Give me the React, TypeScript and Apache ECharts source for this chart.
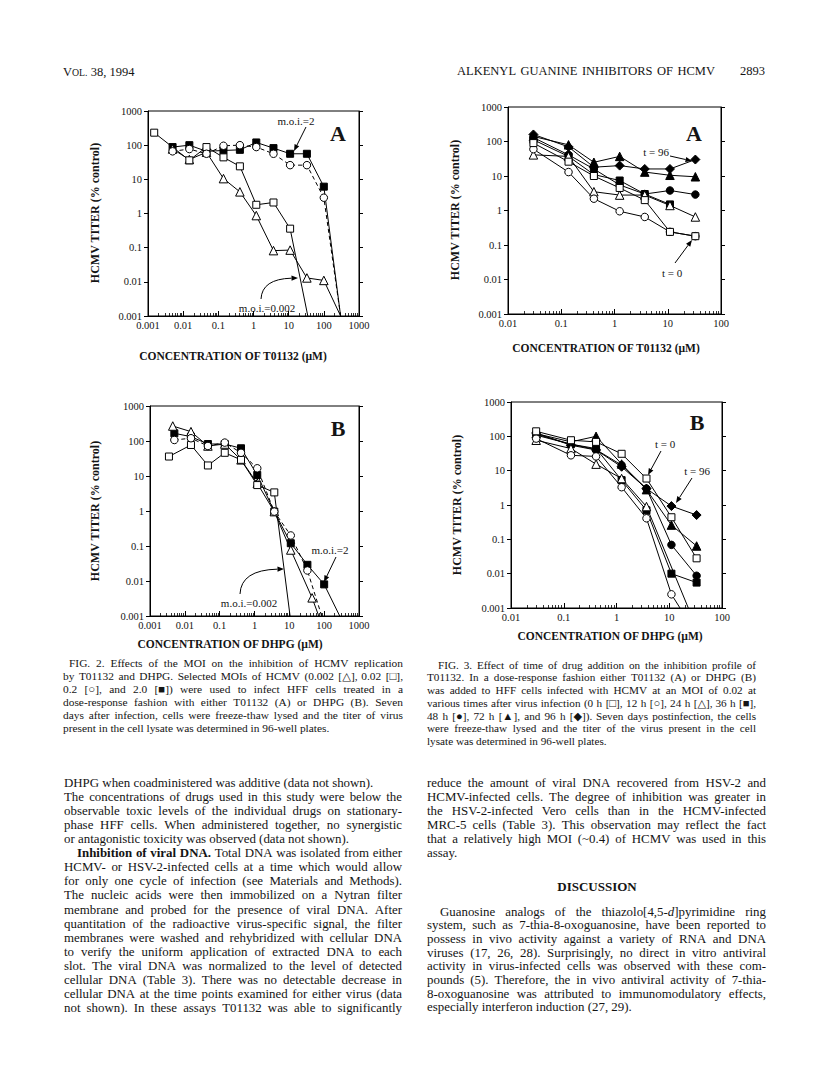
import React, { useEffect, useRef } from 'react';
import * as echarts from 'echarts';

const SERIF = '"Liberation Serif", "Times New Roman", "DejaVu Serif", serif';
const INK = '#141414';

// ---------------- Fig. 2 data (MOI series) ----------------
const conc2 = [0.005, 0.015, 0.046, 0.14, 0.41, 1.2, 3.7, 11, 33, 100];
// Fig 2A  (T01132)
const fig2aTri = [77, 38, 62, 10.5, 4.3, 0.87, 0.082, 0.085, 0.013, 0.011];
const fig2aSqX = [0.0015, 0.015, 0.046, 0.14, 0.41, 1.2, 3.7, 11];
const fig2aSq = [232, 36, 88, 44, 24, 1.8, 2.1, 0.36];
const fig2aCirc = [66, 77, 56, 96, 100, 88, 56, 26, 26, 2.9];
const fig2aFsq = [88, 100, 66, 70, 73, 120, 82, 56, 56, 6.1];
const fig2aEndX = [300, 35, 300, 300]; // tri, sq, circ, fsq fall below 0.001
// Fig 2B  (DHPG)
const fig2bTriX = [0.0045, 0.015, 0.046, 0.14, 0.41, 1.2, 3.7, 11, 45];
const fig2bTri = [268, 185, 72, 82, 29, 6.2, 0.96, 0.077, 0.0033];
const fig2bSqX = [0.0035, 0.015, 0.046, 0.14, 0.41, 1.2, 3.7];
const fig2bSq = [36, 77, 20, 46, 29, 5.5, 3.4];
const fig2bCirc = [107, 120, 72, 90, 46, 16.6, 0.96, 0.2, 0.02];
const fig2bFsq = [166, 133, 82, 82, 62, 10.7, 0.96, 0.12, 0.029, 0.008];
const fig2bEndX = [70, 10.5, 85, 280];

// ---------------- Fig. 3 data (time of addition) ----------------
const conc3 = [0.03, 0.137, 0.41, 1.25, 3.7, 11, 33];
// Fig 3A (T01132)
const fig3a0h = [90, 26, 10, 4.5, 2.0, 0.24, 0.18];
const fig3a12h = [60, 13, 2.2, 0.95, 0.65, 0.24, 0.18];
const fig3a24h = [41, 37, 3.5, 2.8, 2.8, 1.4, 0.65];
const fig3a36h = [112, 37, 11, 7.4, 3.0, 1.5];
const fig3a48h = [130, 41, 16, 5.5, 3.0, 3.8, 2.9];
const fig3a72h = [140, 80, 25, 37, 13, 10.5, 9.5];
const fig3a96h = [160, 70, 18, 20, 16, 16, 30];
// Fig 3B (DHPG)
const fig3b0h = [140, 77, 69, 31, 5.9, 0.44, 0.028];
const fig3b12h = [86, 28, 26, 3.3, 0.41, 0.0025];
const fig3b24h = [77, 44, 15.5, 5.9, 0.9];
const fig3b36h = [108, 59, 44, 5.3, 0.7, 0.01, 0.0055];
const fig3b48h = [115, 59, 41, 14.5, 3.0, 0.069, 0.0087];
const fig3b72h = [120, 69, 100, 15.6, 2.8, 0.26, 0.064];
const fig3b96h = [125, 55, 40, 13, 3.0, 0.93, 0.51];
const fig3bEndX = [16, 23]; // 12 h, 24 h fall below 0.001

// ---------------- texts ----------------
const yName = 'HCMV TITER (% control)';
const xName2A = 'CONCENTRATION OF T01132 (\u00b5M)';
const xName2B = 'CONCENTRATION OF DHPG (\u00b5M)';

type Line = { t: string; j?: boolean; ind?: number; b?: number };

const caption2: Line[] = [
  { t: 'FIG. 2. Effects of the MOI on the inhibition of HCMV replication', j: true, ind: 6 },
  { t: 'by T01132 and DHPG. Selected MOIs of HCMV (0.002 [\u25b3], 0.02 [\u25a1],', j: true },
  { t: '0.2 [\u25cb], and 2.0 [\u25a0]) were used to infect HFF cells treated in a', j: true },
  { t: 'dose-response fashion with either T01132 (A) or DHPG (B). Seven', j: true },
  { t: 'days after infection, cells were freeze-thaw lysed and the titer of virus', j: true },
  { t: 'present in the cell lysate was determined in 96-well plates.' },
];
const caption3: Line[] = [
  { t: 'FIG. 3. Effect of time of drug addition on the inhibition profile of', j: true, ind: 11 },
  { t: 'T01132. In a dose-response fashion either T01132 (A) or DHPG (B)', j: true },
  { t: 'was added to HFF cells infected with HCMV at an MOI of 0.02 at', j: true },
  { t: 'various times after virus infection (0 h [\u25a1], 12 h [\u25cb], 24 h [\u25b3], 36 h [\u25a0],', j: true },
  { t: '48 h [\u25cf], 72 h [\u25b2], and 96 h [\u25c6]). Seven days postinfection, the cells', j: true },
  { t: 'were freeze-thaw lysed and the titer of the virus present in the cell', j: true },
  { t: 'lysate was determined in 96-well plates.' },
];
const bodyLeft: Line[] = [
  { t: 'DHPG when coadministered was additive (data not shown).' },
  { t: 'The concentrations of drugs used in this study were below the', j: true },
  { t: 'observable toxic levels of the individual drugs on stationary-', j: true },
  { t: 'phase HFF cells. When administered together, no synergistic', j: true },
  { t: 'or antagonistic toxicity was observed (data not shown).' },
  { t: 'Inhibition of viral DNA. Total DNA was isolated from either', j: true, ind: 13, b: 4 },
  { t: 'HCMV- or HSV-2-infected cells at a time which would allow', j: true },
  { t: 'for only one cycle of infection (see Materials and Methods).', j: true },
  { t: 'The nucleic acids were then immobilized on a Nytran filter', j: true },
  { t: 'membrane and probed for the presence of viral DNA. After', j: true },
  { t: 'quantitation of the radioactive virus-specific signal, the filter', j: true },
  { t: 'membranes were washed and rehybridized with cellular DNA', j: true },
  { t: 'to verify the uniform application of extracted DNA to each', j: true },
  { t: 'slot. The viral DNA was normalized to the level of detected', j: true },
  { t: 'cellular DNA (Table 3). There was no detectable decrease in', j: true },
  { t: 'cellular DNA at the time points examined for either virus (data', j: true },
  { t: 'not shown). In these assays T01132 was able to significantly', j: true },
];
const bodyRight1: Line[] = [
  { t: 'reduce the amount of viral DNA recovered from HSV-2 and', j: true },
  { t: 'HCMV-infected cells. The degree of inhibition was greater in', j: true },
  { t: 'the HSV-2-infected Vero cells than in the HCMV-infected', j: true },
  { t: 'MRC-5 cells (Table 3). This observation may reflect the fact', j: true },
  { t: 'that a relatively high MOI (~0.4) of HCMV was used in this', j: true },
  { t: 'assay.' },
];
const bodyRight2: Line[] = [
  { t: 'Guanosine analogs of the thiazolo[4,5-{i|d}]pyrimidine ring', j: true, ind: 13 },
  { t: 'system, such as 7-thia-8-oxoguanosine, have been reported to', j: true },
  { t: 'possess in vivo activity against a variety of RNA and DNA', j: true },
  { t: 'viruses (17, 26, 28). Surprisingly, no direct in vitro antiviral', j: true },
  { t: 'activity in virus-infected cells was observed with these com-', j: true },
  { t: 'pounds (5). Therefore, the in vivo antiviral activity of 7-thia-', j: true },
  { t: '8-oxoguanosine was attributed to immunomodulatory effects,', j: true },
  { t: 'especially interferon induction (27, 29).' },
];

// ---------------- helpers ----------------
let mctx: CanvasRenderingContext2D | null = null;
function tw(s: string, size: number, weight = 'normal') {
  if (!mctx) mctx = document.createElement('canvas').getContext('2d');
  const plain = s.replace(/\{i\|([^}]*)\}/g, '$1');
  mctx!.font = `${weight} ${size}px "Liberation Serif"`;
  return mctx!.measureText(plain).width;
}

function txt(x: number, y: number, text: string, size: number, opts: any = {}) {
  return {
    type: 'text',
    x,
    y,
    rotation: opts.rotation || 0,
    silent: true,
    style: {
      text,
      fontFamily: SERIF,
      fontSize: size,
      fontWeight: opts.weight || 'normal',
      fill: INK,
      align: opts.align || 'left',
      verticalAlign: 'middle',
      rich: opts.rich || { i: { fontStyle: 'italic', fontFamily: SERIF, fontSize: size, fill: INK } },
    },
  };
}

function para(lines: Line[], x0: number, width: number, y0: number, step: number, size: number) {
  const out: any[] = [];
  lines.forEach((ln, i) => {
    const y = y0 + i * step;
    const x = x0 + (ln.ind || 0);
    const w = width - (ln.ind || 0);
    const words = ln.t.split(' ');
    const bn = ln.b || 0;
    const ws = words.map((wd, k) => tw(wd, size, k < bn ? 'bold' : 'normal'));
    const total = ws.reduce((a, b) => a + b, 0);
    let gap = tw(' ', size);
    if (ln.j && words.length > 1) gap = (w - total) / (words.length - 1);
    if (!ln.j && bn === 0) {
      out.push(txt(x, y, ln.t, size));
      return;
    }
    let cx = x;
    words.forEach((wd, k) => {
      out.push(txt(cx, y, wd, size, { weight: k < bn ? 'bold' : 'normal' }));
      cx += ws[k] + gap;
    });
  });
  return out;
}

function arrow(x1: number, y1: number, x2: number, y2: number, cx?: number, cy?: number) {
  const els: any[] = [];
  const fx = cx == null ? x1 : cx;
  const fy = cy == null ? y1 : cy;
  const ang = Math.atan2(y2 - fy, x2 - fx);
  const L = 6.5;
  const W = 2.6;
  const bx = x2 - L * Math.cos(ang);
  const by = y2 - L * Math.sin(ang);
  if (cx == null) {
    els.push({ type: 'line', silent: true, shape: { x1, y1, x2: bx, y2: by }, style: { stroke: '#000', lineWidth: 1 } });
  } else {
    els.push({
      type: 'bezierCurve',
      silent: true,
      shape: { x1, y1, x2: bx, y2: by, cpx1: cx, cpy1: cy },
      style: { stroke: '#000', fill: 'none', lineWidth: 1 },
    });
  }
  const px = -Math.sin(ang) * W;
  const py = Math.cos(ang) * W;
  els.push({
    type: 'polygon',
    silent: true,
    shape: { points: [[x2, y2], [bx + px, by + py], [bx - px, by - py]] },
    style: { fill: '#000' },
  });
  return els;
}

const fmtLog = (v: number) => {
  const l = Math.log10(v);
  const e = Math.round(l);
  if (Math.abs(l - e) > 1e-6) return '';
  return e < 0 ? Math.pow(10, e).toFixed(-e) : String(Math.pow(10, e));
};

type Mk = 'osq' | 'ocirc' | 'otri' | 'fsq' | 'fcirc' | 'ftri' | 'fdia';
const MARK: Record<Mk, { symbol: string; size: number; fill: string }> = {
  osq: { symbol: 'rect', size: 7, fill: '#fff' },
  ocirc: { symbol: 'circle', size: 7.5, fill: '#fff' },
  otri: { symbol: 'triangle', size: 8.5, fill: '#fff' },
  fsq: { symbol: 'rect', size: 7, fill: '#000' },
  fcirc: { symbol: 'circle', size: 7.5, fill: '#000' },
  ftri: { symbol: 'triangle', size: 8.5, fill: '#000' },
  fdia: { symbol: 'diamond', size: 9, fill: '#000' },
};

function line(name: string, g: number, xs: number[], ys: number[], mk: Mk, endX?: number, dashed = false) {
  const data: any[] = ys.map((y, i) => [xs[i], y]);
  if (endX != null) data.push({ value: [endX, 0.001], symbol: 'none' });
  const m = MARK[mk];
  return {
    type: 'line',
    name,
    xAxisIndex: g,
    yAxisIndex: g * 2,
    data,
    symbol: m.symbol,
    symbolSize: m.size,
    showAllSymbol: true,
    clip: true,
    lineStyle: { color: '#000', width: 1, type: dashed ? [4, 3] : 'solid' },
    itemStyle: { color: m.fill, borderColor: '#000', borderWidth: 1 },
    emphasis: { disabled: true },
    z: mk.startsWith('o') ? 3 : 2,
  };
}

function axes(g: number, xmin: number, xmax: number) {
  const lab = { fontFamily: SERIF, fontSize: 10.5, color: INK, formatter: fmtLog };
  const x = {
    type: 'log',
    gridIndex: g,
    logBase: 10,
    min: xmin,
    max: xmax,
    splitLine: { show: false },
    axisLine: { onZero: false, lineStyle: { color: '#000', width: 1 } },
    axisTick: { inside: true, length: 5, lineStyle: { color: '#000', width: 1 } },
    minorTick: { show: true, splitNumber: 9, length: 3, lineStyle: { color: '#000', width: 0.8 } },
    axisLabel: { ...lab, margin: 4 },
  };
  const yl = {
    type: 'log',
    gridIndex: g,
    logBase: 10,
    min: 0.001,
    max: 1000,
    position: 'left',
    splitLine: { show: false },
    axisLine: { onZero: false, lineStyle: { color: '#000', width: 1 } },
    axisTick: { inside: false, length: 4, lineStyle: { color: '#000', width: 1 } },
    axisLabel: { ...lab, margin: 6 },
  };
  const yr = {
    ...yl,
    position: 'right',
    axisLabel: { show: false },
  };
  return { x, yl, yr };
}

function buildOption() {
  const grids = [
    { left: 148, top: 111, width: 211, height: 205 },
    { left: 150, top: 406, width: 209, height: 210 },
    { left: 508, top: 107, width: 213, height: 207 },
    { left: 511, top: 402, width: 211, height: 206 },
  ].map((g) => ({ ...g, show: true, borderColor: '#000', borderWidth: 1, backgroundColor: 'transparent', containLabel: false, outerBoundsMode: 'none' }));

  const a0 = axes(0, 0.001, 1000);
  const a1 = axes(1, 0.001, 1000);
  const a2 = axes(2, 0.01, 100);
  const a3 = axes(3, 0.01, 100);

  const series = [
    // Fig 2A
    line('2A MOI 0.002', 0, conc2, fig2aTri, 'otri', fig2aEndX[0]),
    line('2A MOI 0.02', 0, fig2aSqX, fig2aSq, 'osq', fig2aEndX[1]),
    line('2A MOI 0.2', 0, conc2, fig2aCirc, 'ocirc', fig2aEndX[2], true),
    line('2A MOI 2.0', 0, conc2, fig2aFsq, 'fsq', fig2aEndX[3]),
    // Fig 2B
    line('2B MOI 0.002', 1, fig2bTriX, fig2bTri, 'otri', fig2bEndX[0]),
    line('2B MOI 0.02', 1, fig2bSqX, fig2bSq, 'osq', fig2bEndX[1]),
    line('2B MOI 0.2', 1, conc2, fig2bCirc, 'ocirc', fig2bEndX[2], true),
    line('2B MOI 2.0', 1, conc2, fig2bFsq, 'fsq', fig2bEndX[3]),
    // Fig 3A
    line('3A 96 h', 2, conc3, fig3a96h, 'fdia'),
    line('3A 72 h', 2, conc3, fig3a72h, 'ftri'),
    line('3A 48 h', 2, conc3, fig3a48h, 'fcirc'),
    line('3A 36 h', 2, conc3, fig3a36h, 'fsq'),
    line('3A 24 h', 2, conc3, fig3a24h, 'otri'),
    line('3A 12 h', 2, conc3, fig3a12h, 'ocirc'),
    line('3A 0 h', 2, conc3, fig3a0h, 'osq'),
    // Fig 3B
    line('3B 96 h', 3, conc3, fig3b96h, 'fdia'),
    line('3B 72 h', 3, conc3, fig3b72h, 'ftri'),
    line('3B 48 h', 3, conc3, fig3b48h, 'fcirc'),
    line('3B 36 h', 3, conc3, fig3b36h, 'fsq'),
    line('3B 24 h', 3, conc3, fig3b24h, 'otri', fig3bEndX[1]),
    line('3B 12 h', 3, conc3, fig3b12h, 'ocirc', fig3bEndX[0]),
    line('3B 0 h', 3, conc3, fig3b0h, 'osq'),
  ];

  const R = Math.PI / 2;
  const graphic: any[] = [
    // running head
    txt(63, 72, '{a|V}{b|OL.}{a| 38, 1994}', 12.5, {
      rich: {
        a: { fontFamily: SERIF, fontSize: 12.5, fill: INK },
        b: { fontFamily: SERIF, fontSize: 9.8, fill: INK },
      },
    }),
    ...para([{ t: 'ALKENYL GUANINE INHIBITORS OF HCMV', j: true }], 457, 258, 71, 0, 12.5),
    txt(740, 71, '2893', 12.5),
    // axis titles
    txt(95, 213, yName, 12, { weight: 'bold', rotation: R, align: 'center' }),
    txt(95, 511, yName, 12, { weight: 'bold', rotation: R, align: 'center' }),
    txt(455, 210, yName, 12, { weight: 'bold', rotation: R, align: 'center' }),
    txt(457, 505, yName, 12, { weight: 'bold', rotation: R, align: 'center' }),
    txt(233, 356, xName2A, 11.5, { weight: 'bold', align: 'center' }),
    txt(230, 644, xName2B, 11.5, { weight: 'bold', align: 'center' }),
    txt(606, 348, xName2A, 11.5, { weight: 'bold', align: 'center' }),
    txt(610, 636, xName2B, 11.5, { weight: 'bold', align: 'center' }),
    // panel letters
    txt(338, 133, 'A', 22, { weight: 'bold', align: 'center' }),
    txt(338, 428, 'B', 22, { weight: 'bold', align: 'center' }),
    txt(694, 133, 'A', 22, { weight: 'bold', align: 'center' }),
    txt(697, 422, 'B', 22, { weight: 'bold', align: 'center' }),
    // Fig 2 annotations
    txt(296, 121, 'm.o.i.=2', 11, { align: 'center' }),
    ...arrow(306, 127, 294, 151),
    txt(267, 308, 'm.o.i.=0.002', 11, { align: 'center' }),
    ...arrow(261, 299, 298, 278, 262, 279),
    txt(330, 550, 'm.o.i.=2', 11, { align: 'center' }),
    ...arrow(336, 557, 324, 582),
    txt(249, 603, 'm.o.i.=0.002', 11, { align: 'center' }),
    ...arrow(240, 594, 284, 569, 241, 570),
    // Fig 3 annotations
    txt(656, 152, 't = 96', 11, { align: 'center' }),
    ...arrow(670, 156, 692, 161),
    txt(672, 273, 't = 0', 11, { align: 'center' }),
    ...arrow(675, 263, 692, 240),
    txt(665, 444, 't = 0', 11, { align: 'center' }),
    ...arrow(661, 451, 648, 475),
    txt(697, 471, 't = 96', 11, { align: 'center' }),
    ...arrow(692, 478, 676, 503),
    // captions
    ...para(caption2, 63, 340, 663, 13, 11.4),
    ...para(caption3, 427, 329, 664.5, 12.75, 11.2),
    // body
    ...para(bodyLeft, 64, 338, 783, 14.06, 12.9),
    ...para(bodyRight1, 427, 339, 782.7, 14, 12.9),
    txt(597, 886, 'DISCUSSION', 13, { weight: 'bold', align: 'center' }),
    ...para(bodyRight2, 427, 339, 911.5, 13.7, 12.9),
  ];

  return {
    animation: false,
    backgroundColor: '#fff',
    grid: grids,
    xAxis: [a0.x, a1.x, a2.x, a3.x],
    yAxis: [a0.yl, a0.yr, a1.yl, a1.yr, a2.yl, a2.yr, a3.yl, a3.yr],
    series,
    graphic,
  };
}

export default function App() {
  const ref = useRef<HTMLDivElement>(null);
  useEffect(() => {
    const chart = echarts.init(ref.current!, null, { renderer: 'svg', width: 816, height: 1092 });
    chart.setOption(buildOption() as any);
    return () => chart.dispose();
  }, []);
  return (
    <div
      ref={ref}
      style={{ position: 'absolute', left: 0, top: 0, width: 816, height: 1092, background: '#fff' }}
    />
  );
}
